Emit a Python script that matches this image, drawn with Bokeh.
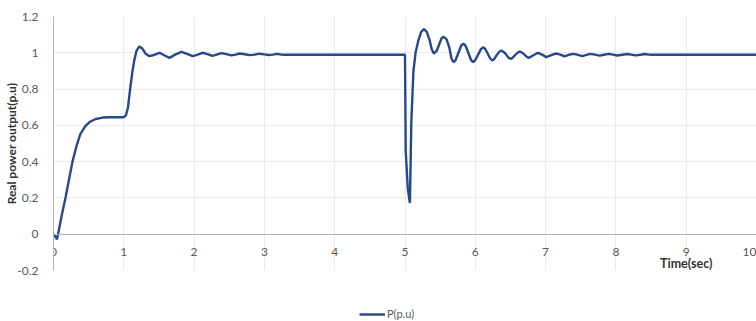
from bokeh.plotting import figure
from bokeh.layouts import column
from bokeh.models import FixedTicker, CustomJSTickFormatter, Label, Legend, LegendItem, Range1d
from bokeh.embed import file_html
from bokeh.resources import INLINE

# ---- data ----
time_s = [
    0.0, 0.03, 0.05, 0.08, 0.12, 0.17, 0.22, 0.27, 0.33, 0.38, 0.45, 0.52, 0.60, 0.70, 0.80, 0.90, 1.00,
    1.03, 1.06, 1.09, 1.12, 1.15, 1.18, 1.22, 1.26, 1.31, 1.36, 1.43, 1.51, 1.58, 1.65, 1.73, 1.82,
    1.90, 1.98, 2.05, 2.12, 2.19, 2.26, 2.32, 2.39, 2.46, 2.53, 2.59, 2.65, 2.72, 2.79, 2.86, 2.93,
    3.00, 3.06, 3.12, 3.18, 3.24, 3.30,
    5.00, 5.01, 5.04, 5.07, 5.09, 5.12, 5.15, 5.19, 5.23, 5.27, 5.31, 5.35, 5.38, 5.41, 5.45, 5.49,
    5.52, 5.55, 5.59, 5.63, 5.66, 5.69, 5.72, 5.76, 5.80, 5.83, 5.86, 5.90, 5.94, 5.97, 6.00, 6.04,
    6.08, 6.11, 6.14, 6.17, 6.21, 6.24, 6.27, 6.30, 6.34, 6.37, 6.40, 6.44, 6.47, 6.50, 6.53, 6.56,
    6.60, 6.63, 6.66, 6.70, 6.73, 6.76, 6.82, 6.89, 6.95, 7.01, 7.08, 7.15, 7.21, 7.27, 7.33, 7.39,
    7.45, 7.52, 7.58, 7.64, 7.70, 7.77, 7.83, 7.90, 7.96, 8.02, 8.09, 8.16, 8.22, 8.28, 8.35, 8.41,
    8.47, 8.51, 10.0,
]
power_pu = [
    0.0, -0.015, -0.028, 0.03, 0.11, 0.20, 0.30, 0.40, 0.49, 0.55, 0.595, 0.62, 0.635, 0.643, 0.645, 0.645, 0.645,
    0.655, 0.70, 0.80, 0.89, 0.96, 1.01, 1.035, 1.025, 0.995, 0.982, 0.988, 1.0, 0.985, 0.972, 0.99, 1.005,
    0.994, 0.982, 0.99, 1.0, 0.993, 0.983, 0.99, 0.998, 0.993, 0.986, 0.99, 0.996, 0.992, 0.987, 0.99, 0.995,
    0.991, 0.988, 0.99, 0.994, 0.99, 0.989,
    0.989, 0.46, 0.25, 0.172, 0.62, 0.90, 1.00, 1.068, 1.115, 1.13, 1.115, 1.07, 1.02, 0.996, 1.01, 1.05,
    1.08, 1.088, 1.075, 1.03, 0.97, 0.948, 0.96, 1.0, 1.04, 1.05, 1.04, 1.0, 0.96, 0.948, 0.96, 0.99,
    1.02, 1.03, 1.022, 1.0, 0.97, 0.958, 0.966, 0.985, 1.005, 1.013, 1.006, 0.99, 0.974, 0.967, 0.972, 0.985,
    1.0, 1.007, 1.002, 0.99, 0.978, 0.972, 0.985, 1.0, 0.99, 0.976, 0.987, 0.996, 0.99, 0.98, 0.989, 0.994,
    0.99, 0.982, 0.988, 0.994, 0.99, 0.984, 0.989, 0.994, 0.99, 0.985, 0.989, 0.993, 0.99, 0.986, 0.989, 0.993,
    0.99, 0.989, 0.989,
]
x_ticks = [0, 1, 2, 3, 4, 5, 6, 7, 8, 9, 10]
y_ticks = [-0.2, 0.0, 0.2, 0.4, 0.6, 0.8, 1.0, 1.2]
series_name = "P(p.u)"
x_title = "Time(sec)"
y_title = "Real power output(p.u)"

FONT = "Lato"
TXT = "#595959"
AXC = "#B4B4B4"
GRID = "#EBEBEB"
LINE = "#27488A"

p = figure(width=756, height=297, output_backend="svg", toolbar_location=None,
           x_range=(0, 10), y_range=(-0.2, 1.2),
           min_border_left=53, min_border_right=0, min_border_top=16, min_border_bottom=27)
p.outline_line_color = None
p.background_fill_color = "white"
p.border_fill_color = "white"

r = p.line(time_s, power_pu, line_color=LINE, line_width=2.4)

# x axis drawn at y = 0 (Excel style)
xa = p.xaxis[0]
xa.fixed_location = 0
xa.ticker = FixedTicker(ticks=x_ticks)
xa.major_tick_line_color = None
xa.minor_tick_line_color = None
xa.axis_line_color = AXC
xa.major_label_text_font = FONT
xa.major_label_text_font_size = "12px"
xa.major_label_text_color = TXT
xa.major_label_standoff = 8

ya = p.yaxis[0]
ya.ticker = FixedTicker(ticks=y_ticks)
ya.formatter = CustomJSTickFormatter(code="return (Math.round(tick*10)/10).toString();")
ya.major_tick_line_color = None
ya.minor_tick_line_color = None
ya.axis_line_color = AXC
ya.major_label_text_font = FONT
ya.major_label_text_font_size = "12px"
ya.major_label_text_color = TXT
ya.major_label_standoff = 9
ya.axis_label = y_title
ya.axis_label_text_font = FONT
ya.axis_label_text_font_style = "bold"
ya.axis_label_text_font_size = "12px"
ya.axis_label_text_color = "#333333"
ya.axis_label_standoff = -5

p.xgrid.ticker = FixedTicker(ticks=x_ticks)
p.ygrid.ticker = FixedTicker(ticks=y_ticks)
p.xgrid.grid_line_color = GRID
p.ygrid.grid_line_color = GRID

p.add_layout(Label(x=9, y=-0.16, text=x_title, text_align="center", text_baseline="middle",
                   text_font=FONT, text_font_style="bold", text_font_size="12.5px", text_color="#333333"))

# legend strip below the chart (same series, drawn outside this strip's view so only the key shows)
p2 = figure(width=756, height=24, output_backend="svg", toolbar_location=None,
            x_axis_type=None, y_axis_type=None,
            x_range=Range1d(0, 756), y_range=Range1d(50, 74),
            min_border_left=0, min_border_right=0, min_border_top=0, min_border_bottom=0)
p2.outline_line_color = None
p2.grid.visible = False
p2.background_fill_color = "white"
p2.border_fill_color = "white"
r2 = p2.line(time_s, power_pu, line_color=LINE, line_width=2.4)
legend = Legend(items=[LegendItem(label=series_name, renderers=[r2])], location=(306, 1),
                padding=0, margin=0, spacing=0, glyph_width=26, glyph_height=12, label_standoff=2,
                label_height=12, label_text_font=FONT, label_text_font_size="11px", label_text_color=TXT,
                border_line_color=None, background_fill_alpha=0)
p2.add_layout(legend)

open("out.html", "w").write(file_html(column(p, p2, spacing=0), INLINE))
